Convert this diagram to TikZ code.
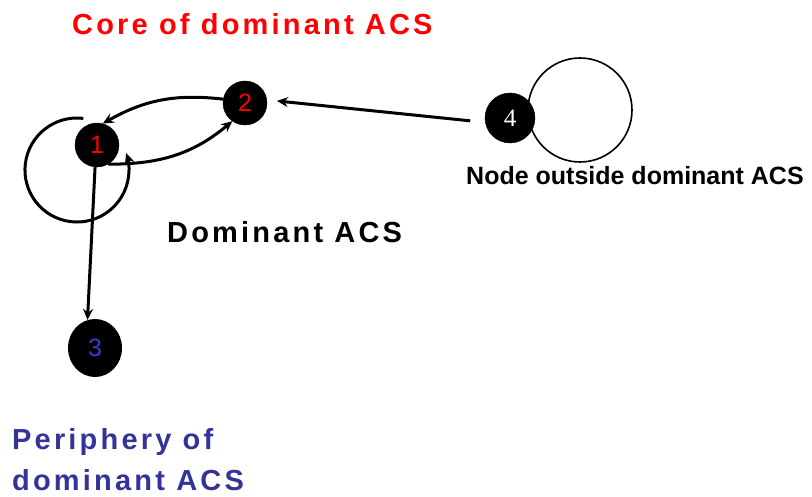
\documentclass[tikz,border=0pt]{standalone}
\usepackage{fontspec}
\setmainfont{Liberation Sans}
\newfontfamily\spaced[LetterSpace=11]{Liberation Sans}
\newfontfamily\serifd{Liberation Serif}
\usetikzlibrary{arrows.meta,shapes.geometric}
\definecolor{corered}{RGB}{255,0,0}
\definecolor{periblue}{RGB}{51,51,153}
\definecolor{digitblue}{RGB}{60,60,200}
\tikzset{
  vert/.style={circle, fill=black, draw=black, inner sep=0pt, minimum size=44pt, font=\fontsize{25}{25}\selectfont},
  conn/.style={draw=black, line width=3pt, -{Stealth[length=11pt,width=10pt]}},
  lbl/.style={anchor=base west, inner sep=0pt, font=\spaced\bfseries\fontsize{29}{34}\selectfont},
}
\begin{document}
\begin{tikzpicture}[x=1pt,y=1pt]
\useasboundingbox (0,0) rectangle (812,-497);
% loop of node 4
\draw[line width=1.6pt] (580,-110) circle[radius=52];
\node[vert] (n1) at (97,-145) {\textcolor{corered}{1}};
\node[vert] (n2) at (245,-103) {\textcolor{corered}{2}};
\node[ellipse, fill=black, inner sep=0pt, minimum width=54pt, minimum height=58pt, font=\fontsize{25}{25}\selectfont] (n3) at (95,-348) {\textcolor{digitblue}{3}};
\node[vert, minimum size=50pt, font=\serifd\fontsize{25}{25}\selectfont] (n4) at (510,-118) {\textcolor{white}{4}};
% self loop of node 1
\coordinate (l1s) at (83.3,-118.4);
\path[conn] (l1s) arc[start angle=83, end angle=379, radius=52];
% edges
\path[conn] (n2.170) to[bend right=18] (n1.75);
\path[conn] (n1.-60) to[out=0, in=220] (n2.235);
\path[conn, shorten <=15pt, shorten >=10pt] (n4.190) -- (n2.8);
\path[conn] (n1.265) -- (n3.105);
% labels
\node[lbl, text=corered] (tcore) at (72,-35) {Core of dominant ACS};
\node[lbl] (tdom) at (167,-243) {Dominant ACS};
\node[anchor=base west, inner sep=0pt, font=\bfseries\fontsize{25}{30}\selectfont] (tout) at (466,-185) {Node outside dominant ACS};
\node[lbl, text=periblue] (tper1) at (12,-449) {Periphery of};
\node[lbl, text=periblue] (tper2) at (12,-490) {dominant ACS};
\end{tikzpicture}
\end{document}
